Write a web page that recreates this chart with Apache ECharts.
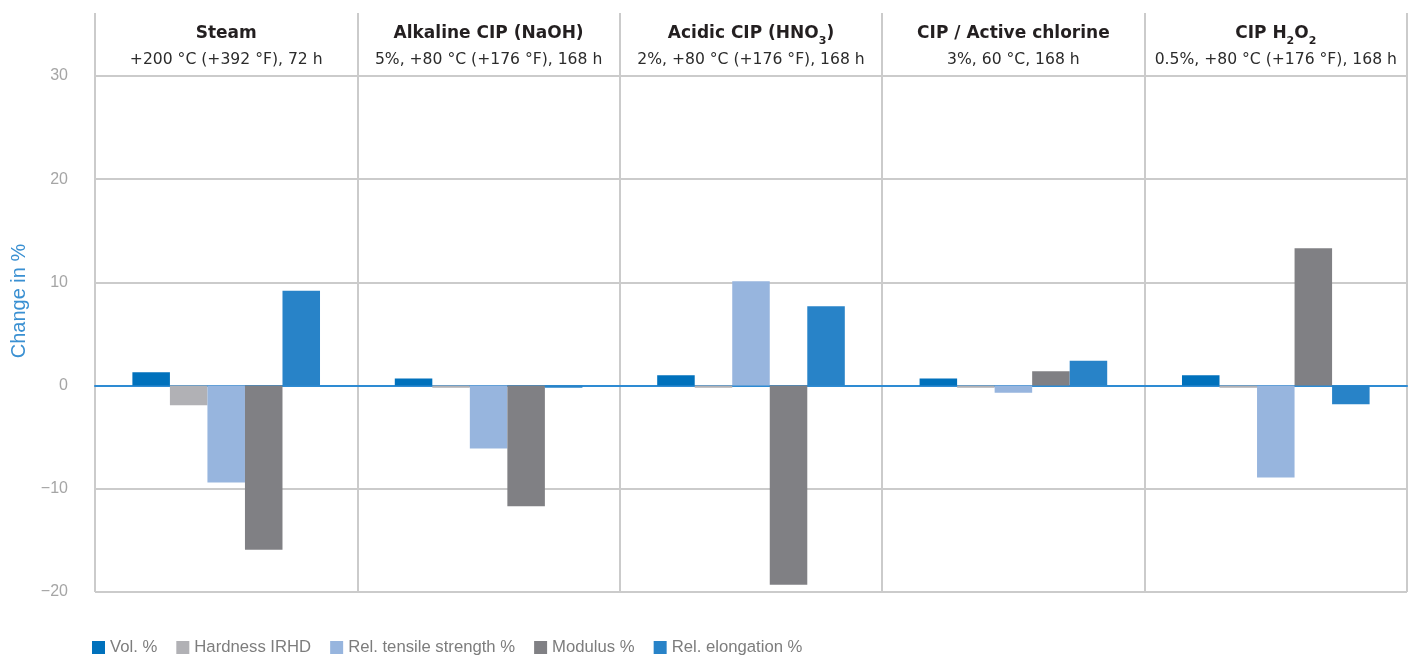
<!DOCTYPE html>
<html><head><meta charset="utf-8">
<script src="https://cdn.jsdelivr.net/npm/echarts@6/dist/echarts.min.js"></script>
<style>html,body{margin:0;padding:0;background:#fff}#c{width:1414px;height:655px}</style>
</head><body><div id="c"></div>
<script>
// ---- data ----
const titles = ['Steam', 'Alkaline CIP (NaOH)', 'Acidic CIP (HNO₃)', 'CIP / Active chlorine', 'CIP H₂O₂'];
const subtitles = ['+200 °C (+392 °F), 72 h', '5%, +80 °C (+176 °F), 168 h', '2%, +80 °C (+176 °F), 168 h', '3%, 60 °C, 168 h', '0.5%, +80 °C (+176 °F), 168 h'];
const seriesNames = ['Vol. %', 'Hardness IRHD', 'Rel. tensile strength %', 'Modulus %', 'Rel. elongation %'];
const vol = [1.3, 0.7, 1.0, 0.7, 1.0];
const hardness = [-1.9, -0.2, -0.2, -0.2, -0.2];
const tensile = [-9.4, -6.1, 10.1, -0.7, -8.9];
const modulus = [-15.9, -11.7, -19.3, 1.4, 13.3];
const elongation = [9.2, -0.2, 7.7, 2.4, -1.8];
const yMin = -20, yMax = 30, yStep = 10;
const yAxisName = 'Change in %';

// ---- styling ----
const colors = ['#0071bc', '#b1b1b5', '#97b5de', '#808084', '#2883c8'];
const gridColor = '#cbcbcb';
const zeroColor = '#2e8bd3';
const hFont = '"DejaVu Sans", "Noto Sans", sans-serif';
const lFont = '"Liberation Sans Narrow", "Liberation Sans", sans-serif';

const subMap = {'₀':'0','₁':'1','₂':'2','₃':'3','₄':'4','₅':'5','₆':'6','₇':'7','₈':'8','₉':'9'};
function richTitle(t) {
  let out = '', buf = '', sub = '';
  for (const ch of t) {
    if (subMap[ch] !== undefined) {
      if (buf) { out += '{b|' + buf + '}'; buf = ''; }
      sub += subMap[ch];
    } else {
      if (sub) { out += '{s|' + sub + '}'; sub = ''; }
      buf += ch;
    }
  }
  if (buf) out += '{b|' + buf + '}';
  if (sub) out += '{s|' + sub + '}';
  return out;
}
const headerCats = titles.map((t, i) => i);
const seriesData = [vol, hardness, tensile, modulus, elongation];

const chart = echarts.init(document.getElementById('c'), null, {renderer: 'canvas'});
chart.setOption({
  animation: false,
  color: colors,
  grid: [
    {left: 95, right: 7, top: 76, bottom: 63, containLabel: false},
    {left: 95, right: 7, top: 13, height: 63, containLabel: false}
  ],
  legend: {
    left: 87, top: 634, icon: 'rect', itemWidth: 13, itemHeight: 13, itemGap: 19,
    textStyle: {color: '#7d7d7d', fontSize: 16.7, fontFamily: lFont},
    data: seriesNames
  },
  xAxis: [
    {
      type: 'category', gridIndex: 0, data: titles,
      axisLine: {show: true, onZero: true, lineStyle: {color: zeroColor, width: 2}},
      axisTick: {show: false}, axisLabel: {show: false},
      splitLine: {show: true, lineStyle: {color: gridColor, width: 2}}
    },
    {
      type: 'category', gridIndex: 1, data: headerCats, position: 'bottom',
      axisLine: {show: false}, axisTick: {show: false},
      splitLine: {show: true, lineStyle: {color: gridColor, width: 2}},
      axisLabel: {
        show: true, inside: true, margin: 3, interval: 0,
        formatter: (v) => richTitle(titles[v]) + '\n{n|' + subtitles[v] + '}',
        rich: {
          b: {fontFamily: hFont, fontWeight: 'bold', fontSize: 17, color: '#231f20', lineHeight: 26},
          s: {fontFamily: hFont, fontWeight: 'bold', fontSize: 11, color: '#231f20', lineHeight: 8, verticalAlign: 'bottom'},
          n: {fontFamily: hFont, fontSize: 15.6, color: '#2b2b2b', lineHeight: 26}
        }
      }
    }
  ],
  yAxis: [
    {
      type: 'value', gridIndex: 0, min: yMin, max: yMax, interval: yStep,
      name: yAxisName, nameLocation: 'middle', nameGap: 64,
      nameTextStyle: {color: '#3a90d2', fontSize: 20, fontFamily: lFont, padding: [0, 0, 0, 66]},
      axisLine: {show: false}, axisTick: {show: false},
      axisLabel: {color: '#a5a5a5', fontSize: 16, fontFamily: lFont, margin: 27,
        formatter: (v) => String(v).replace('-', '\u2212')},
      splitLine: {show: true, lineStyle: {color: gridColor, width: 2}}
    },
    {type: 'value', gridIndex: 1, show: false, splitLine: {show: false}}
  ],
  series: seriesNames.map((n, i) => ({
    name: n, type: 'bar', xAxisIndex: 0, yAxisIndex: 0,
    data: seriesData[i], barGap: '0%', barCategoryGap: '28.5%',
    itemStyle: {color: colors[i]}
  }))
});
</script></body></html>
